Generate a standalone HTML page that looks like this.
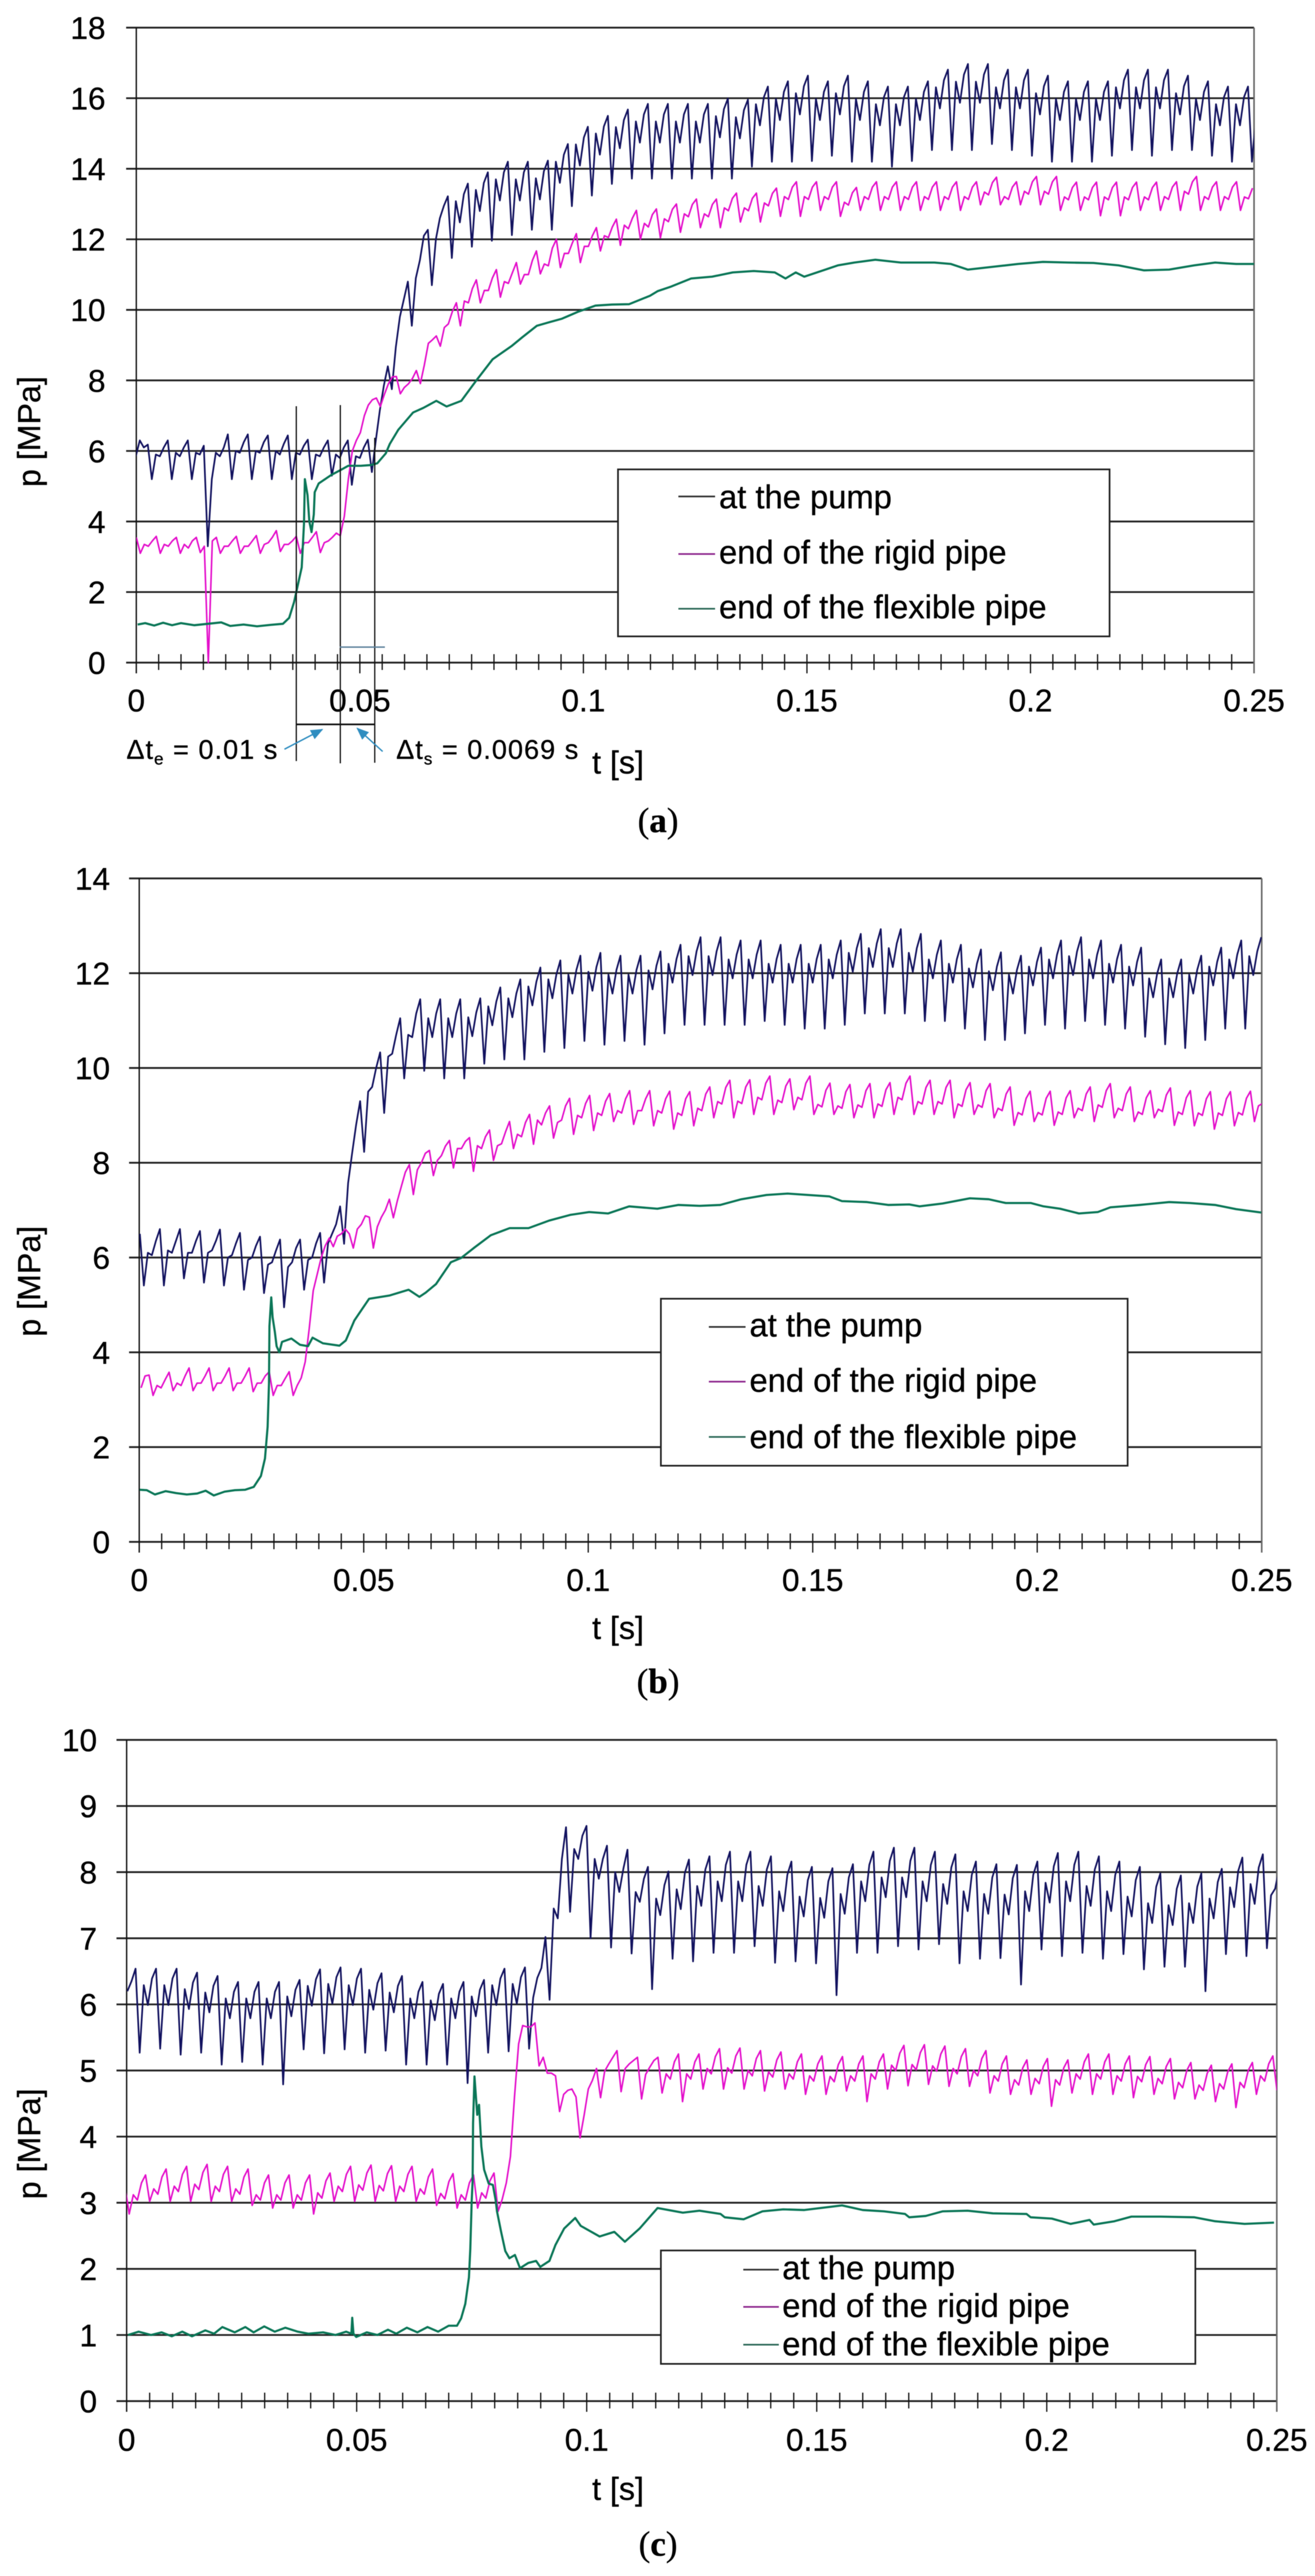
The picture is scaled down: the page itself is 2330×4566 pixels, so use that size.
<!DOCTYPE html>
<html lang="en">
<head>
<meta charset="utf-8">
<title>Pressure at the pump and pipe ends</title>
<style>
html,body{margin:0;padding:0;background:#fff}
svg{display:block;filter:blur(.6px)}
text{font-family:"Liberation Sans",Arial,sans-serif;fill:#000;stroke:#000;stroke-width:.5px}
.lg{font-size:58px}
.ttl{font-size:57px}
.cap{font-family:"Liberation Serif",serif;font-size:62px}
.note{font-size:48px;letter-spacing:1.8px}
</style>
</head>
<body>
<svg id="root" xmlns="http://www.w3.org/2000/svg" width="2330" height="4566" viewBox="0 0 2330 4566">
<rect width="2330" height="4566" fill="#fff"/>
<defs>
<clipPath id="clip-a"><rect x="241.5" y="0" width="1980.5" height="1400"/></clipPath>
<clipPath id="clip-b"><rect x="246.7" y="1500" width="1988.9" height="1400"/></clipPath>
<clipPath id="clip-c"><rect x="224.4" y="3000" width="2037.9" height="1400"/></clipPath>
<marker id="arrow-head" markerWidth="22" markerHeight="18" refX="20" refY="9" orient="auto" markerUnits="userSpaceOnUse"><path d="M0 0L22 9L0 18Z" fill="#2f8dc0"/></marker>
</defs>

<!-- chart a -->
<g id="marks-a"></g>
<g>
<g stroke="#111" stroke-width="2.2" fill="none">
<line x1="525" y1="720" x2="525" y2="1349"/>
<line x1="603" y1="718" x2="603" y2="1353"/>
<line x1="664" y1="776" x2="664" y2="1352"/>
<line x1="524" y1="1284" x2="664" y2="1284" stroke-width="3"/>
</g>
<line x1="602" y1="1147" x2="682" y2="1147" stroke="#5a7f9a" stroke-width="2.5"/>
<line x1="504" y1="1328" x2="571" y2="1293" stroke="#2f8dc0" stroke-width="2.5" marker-end="url(#arrow-head)"/>
<line x1="678" y1="1332" x2="633" y2="1291" stroke="#2f8dc0" stroke-width="2.5" marker-end="url(#arrow-head)"/>
<text class="note" x="224" y="1345">Δt<tspan font-size="30" dy="10">e</tspan><tspan dy="-10"> = 0.01 s</tspan></text>
<text class="note" x="702" y="1345">Δt<tspan font-size="30" dy="10">s</tspan><tspan dy="-10"> = 0.0069 s</tspan></text>
</g>
<g>
<rect x="1095" y="832" width="871" height="296" fill="#fff" stroke="#222" stroke-width="3"/>
<line x1="1202" y1="880" x2="1267" y2="880" stroke="#333" stroke-width="3"/>
<line x1="1202" y1="982" x2="1267" y2="982" stroke="#8f2a8f" stroke-width="3"/>
<line x1="1202" y1="1079" x2="1267" y2="1079" stroke="#2f6b5a" stroke-width="3"/>
<text class="lg" x="1274" y="901">at the pump</text>
<text class="lg" x="1274" y="999">end of the rigid pipe</text>
<text class="lg" x="1274" y="1096">end of the flexible pipe</text>
</g>
<text class="ttl" transform="translate(71 765) rotate(-90)" text-anchor="middle">p [MPa]</text>
<text class="ttl" x="1095" y="1371" text-anchor="middle">t [s]</text>
<text class="cap" x="1166" y="1475" text-anchor="middle">(<tspan font-weight="bold">a</tspan>)</text>

<!-- chart b -->
<g id="marks-b"></g>
<g>
<rect x="1171" y="2302" width="827" height="296" fill="#fff" stroke="#222" stroke-width="3"/>
<line x1="1256" y1="2352" x2="1321" y2="2352" stroke="#333" stroke-width="3"/>
<line x1="1256" y1="2449" x2="1321" y2="2449" stroke="#8f2a8f" stroke-width="3"/>
<line x1="1256" y1="2547" x2="1321" y2="2547" stroke="#2f6b5a" stroke-width="3"/>
<text class="lg" x="1328" y="2369">at the pump</text>
<text class="lg" x="1328" y="2467">end of the rigid pipe</text>
<text class="lg" x="1328" y="2567">end of the flexible pipe</text>
</g>
<text class="ttl" transform="translate(71 2271) rotate(-90)" text-anchor="middle">p [MPa]</text>
<text class="ttl" x="1095" y="2905" text-anchor="middle">t [s]</text>
<text class="cap" x="1166" y="3001" text-anchor="middle">(<tspan font-weight="bold">b</tspan>)</text>

<!-- chart c -->
<g id="marks-c"></g>
<g>
<rect x="1171" y="3989" width="947" height="201" fill="#fff" stroke="#222" stroke-width="3"/>
<line x1="1317" y1="4023" x2="1380" y2="4023" stroke="#333" stroke-width="3"/>
<line x1="1317" y1="4089" x2="1380" y2="4089" stroke="#8f2a8f" stroke-width="3"/>
<line x1="1317" y1="4156" x2="1380" y2="4156" stroke="#2f6b5a" stroke-width="3"/>
<text class="lg" x="1386" y="4040">at the pump</text>
<text class="lg" x="1386" y="4107">end of the rigid pipe</text>
<text class="lg" x="1386" y="4175">end of the flexible pipe</text>
</g>
<text class="ttl" transform="translate(71 3800) rotate(-90)" text-anchor="middle">p [MPa]</text>
<text class="ttl" x="1095" y="4431" text-anchor="middle">t [s]</text>
<text class="cap" x="1166" y="4530" text-anchor="middle">(<tspan font-weight="bold">c</tspan>)</text>
</svg>

<script>
const SVG_NS = 'http://www.w3.org/2000/svg';

/* shared axis data */
const xTickLabels = ['0', '0.05', '0.1', '0.15', '0.2', '0.25'];
const xTickValues = [0, 0.05, 0.1, 0.15, 0.2, 0.25];
const xMinorStep = 0.005;
const tMax = 0.25;

/* chart a: pressure samples [MPa], uniform time step */
const aYTicks = [0, 2, 4, 6, 8, 10, 12, 14, 16, 18];
const aPump = [
5.85,6.3,6.1,6.18,
5.2,5.9,5.85,6.1,6.3,
5.2,5.95,5.85,6.1,6.3,
5.2,5.95,5.9,6.15,3.3,
5.2,5.95,5.85,6.1,6.47,
5.2,6,5.95,6.25,6.47,
5.2,6,5.95,6.25,6.44,
5.2,6,5.9,6.2,6.44,
5.2,5.95,5.9,6.15,6.32,
5.2,5.9,5.85,6.1,6.3,
5.3,5.9,5.8,6.1,6.3,
5.04,5.85,5.8,6.1,6.32,
5.4,6.3,7.15,7.85,8.4,
7.75,8.95,9.8,10.3,10.8,
9.55,10.9,11.4,12.1,12.27,
10.7,12,12.6,12.95,13.22,
11.47,13.08,12.48,13.28,13.58,
11.79,13.4,12.8,13.6,13.9,
11.96,13.7,13.1,13.9,14.2,
12.12,13.7,13.1,13.9,14.2,
12.27,13.73,13.13,13.93,14.23,
12.27,14.2,13.6,14.4,14.7,
12.94,14.69,14.09,14.89,15.19,
13.24,15,14.4,15.2,15.5,
13.57,15.18,14.58,15.38,15.68,
13.72,15.34,14.74,15.54,15.84,
13.72,15.34,14.74,15.54,15.84,
13.72,15.34,14.74,15.54,15.84,
13.72,15.34,14.74,15.54,15.84,
13.72,15.49,14.89,15.69,15.99,
13.72,15.46,14.86,15.66,15.96,
14.06,15.83,15.23,16.03,16.33,
14.2,15.98,15.38,16.18,16.48,
14.2,16.14,15.54,16.34,16.64,
14.22,15.98,15.38,16.18,16.48,
14.37,16.14,15.54,16.34,16.64,
14.2,15.98,15.38,16.18,16.48,
14.2,15.83,15.23,16.03,16.33,
14.06,15.83,15.23,16.03,16.33,
14.22,15.98,15.38,16.18,16.48,
14.53,16.31,15.71,16.51,16.81,
14.53,16.47,15.87,16.67,16.97,
14.53,16.47,15.87,16.67,16.97,
14.7,16.31,15.71,16.51,16.81,
14.53,16.31,15.71,16.51,16.81,
14.37,16.14,15.54,16.34,16.64,
14.2,15.98,15.38,16.18,16.48,
14.2,15.98,15.38,16.18,16.48,
14.2,15.98,15.38,16.18,16.48,
14.37,16.31,15.71,16.51,16.81,
14.53,16.31,15.71,16.51,16.81,
14.37,16.31,15.71,16.51,16.81,
14.53,16.14,15.54,16.34,16.64,
14.53,15.98,15.38,16.18,16.48,
14.37,15.83,15.23,16.03,16.33,
14.2,15.83,15.23,16.03,16.33,
14.2,15.5
];
const aRigid = [
3.55,
3.1,3.35,3.3,3.45,3.58,
3.1,3.35,3.3,3.45,3.55,
3.1,3.35,3.25,3.45,3.55,
3.12,3.3,0,3.45,3.55,
3.1,3.3,3.3,3.45,3.58,
3.1,3.3,3.3,3.45,3.6,
3.1,3.35,3.4,3.55,3.74,
3.15,3.35,3.35,3.45,3.58,
3.1,3.4,3.4,3.55,3.71,
3.12,3.4,3.45,3.55,3.67,
3.6,4.15,5.2,6,6.3,
6.52,7,7.3,7.45,7.5,
7.26,7.6,7.9,8.1,8.11,
7.62,7.8,7.9,8.05,8.28,
7.91,8.44,9.05,9.15,9.26,
8.97,9.5,9.6,9.95,10.2,
9.55,10.25,10.2,10.6,10.85,
10.2,10.55,10.55,10.9,11.14,
10.36,10.8,10.75,11.05,11.34,
10.73,11,11,11.4,11.67,
11.02,11.3,11.25,11.75,12,
11.2,11.6,11.6,11.9,12.16,
11.34,11.8,11.8,12.1,12.33,
11.67,12.1,12.05,12.35,12.57,
11.83,12.4,12.3,12.6,12.82,
12,12.45,12.35,12.7,12.86,
12.04,12.58,12.5,12.85,13,
12.2,12.72,12.64,12.99,13.14,
12.33,12.72,12.64,12.99,13.14,
12.33,12.89,12.81,13.16,13.31,
12.49,12.89,12.81,13.16,13.31,
12.49,13.03,12.95,13.3,13.45,
12.65,13.21,13.13,13.48,13.63,
12.65,13.21,13.13,13.48,13.63,
12.82,13.21,13.13,13.48,13.63,
12.65,13.05,12.97,13.32,13.47,
12.82,13.21,13.13,13.48,13.63,
12.82,13.21,13.13,13.48,13.63,
12.82,13.21,13.13,13.48,13.63,
12.82,13.21,13.13,13.48,13.63,
12.82,13.21,13.13,13.48,13.63,
12.82,13.21,13.13,13.48,13.63,
12.98,13.34,13.26,13.61,13.76,
12.98,13.21,13.13,13.48,13.63,
12.98,13.36,13.28,13.63,13.78,
12.98,13.36,13.28,13.63,13.78,
12.82,13.2,13.12,13.47,13.62,
12.82,13.2,13.12,13.47,13.62,
12.67,13.2,13.12,13.47,13.62,
12.67,13.2,13.12,13.47,13.62,
12.82,13.2,13.12,13.47,13.62,
12.82,13.21,13.13,13.48,13.63,
12.82,13.36,13.28,13.63,13.78,
12.82,13.21,13.13,13.48,13.63,
12.82,13.21,13.13,13.48,13.63,
12.82,13.2,13.15,13.45
];
const aFlexMs = [0.3,2,4,6,8,10,13,16,19,21,24,27,30,32.8,34.2,35.3,37,37.5,37.7,38.3,38.7,39.2,39.7,39.9,40.8,42.2,43.6,46,47.4,50.2,52.5,53.9,55.8,56.7,58.6,61.9,64.2,67.1,69.4,72.7,76,79.7,83.9,86.3,89.6,92.4,95.2,98.9,102.7,106.4,110.2,114.9,116.6,119.4,124.1,128.8,133.4,138.1,142.8,145.2,147.5,149.4,154.1,156.9,160.6,165.3,171,175.2,178.5,182.2,186,191.6,197.2,202.8,208.5,214.1,219.7,225.4,231,236.6,241.3,246,250];
const aFlexMpa = [1.08,1.12,1.05,1.13,1.06,1.12,1.06,1.1,1.14,1.04,1.08,1.03,1.07,1.1,1.27,1.72,2.7,3.93,5.2,4.75,4,3.7,4.2,4.83,5.08,5.2,5.32,5.48,5.58,5.58,5.6,5.65,5.93,6.2,6.6,7.09,7.22,7.42,7.26,7.42,7.99,8.6,8.97,9.22,9.55,9.65,9.75,9.95,10.12,10.15,10.16,10.4,10.53,10.65,10.89,10.94,11.06,11.1,11.06,10.89,11.06,10.94,11.14,11.26,11.34,11.42,11.34,11.34,11.34,11.3,11.14,11.22,11.3,11.36,11.34,11.33,11.26,11.12,11.14,11.26,11.34,11.3,11.3];

/* chart b */
const bYTicks = [0, 2, 4, 6, 8, 10, 12, 14];
const bPump = [
6.5,
5.41,6.1,6.05,6.35,6.6,
5.41,6.15,6.1,6.35,6.6,
5.56,6.1,6.1,6.35,6.56,
5.47,6.1,6.15,6.35,6.59,
5.41,6,6.05,6.3,6.52,
5.32,5.95,6,6.25,6.44,
5.25,5.85,5.9,6.15,6.38,
4.95,5.8,5.9,6.2,6.38,
5.32,5.95,6,6.3,6.52,
5.47,6.3,6.5,6.7,7.08,
6.29,7.57,8.2,8.8,9.3,
8.23,9.5,9.6,10,10.33,
9.05,10.24,10.3,10.7,11.05,
9.78,10.7,10.65,11.15,11.45,
9.94,11.05,10.65,11.15,11.45,
9.78,11.05,10.65,11.15,11.45,
9.78,11.07,10.67,11.17,11.47,
10.09,11.3,10.9,11.4,11.7,
10.18,11.47,11.07,11.57,11.87,
10.18,11.72,11.32,11.82,12.12,
10.34,11.87,11.47,11.97,12.27,
10.42,11.97,11.57,12.07,12.37,
10.57,12.03,11.63,12.13,12.43,
10.49,11.97,11.57,12.07,12.37,
10.57,11.97,11.57,12.07,12.37,
10.49,12.06,11.66,12.16,12.46,
10.73,12.2,11.8,12.3,12.6,
10.91,12.36,11.96,12.46,12.76,
10.91,12.36,11.96,12.46,12.76,
10.91,12.29,11.89,12.39,12.69,
10.91,12.29,11.89,12.39,12.69,
10.99,12.2,11.8,12.3,12.6,
10.91,12.2,11.8,12.3,12.6,
10.83,12.2,11.8,12.3,12.6,
10.83,12.29,11.89,12.39,12.69,
10.91,12.43,12.03,12.53,12.83,
11.15,12.53,12.13,12.63,12.93,
11.15,12.53,12.13,12.63,12.93,
11.15,12.43,12.03,12.53,12.83,
10.99,12.29,11.89,12.39,12.69,
10.99,12.2,11.8,12.3,12.6,
10.83,12.1,11.7,12.2,12.5,
10.59,12.04,11.64,12.14,12.44,
10.59,11.97,11.57,12.07,12.37,
10.73,12.14,11.74,12.24,12.54,
10.91,12.29,11.89,12.39,12.69,
10.83,12.36,11.96,12.46,12.76,
10.99,12.29,11.89,12.39,12.69,
10.91,12.2,11.8,12.3,12.6,
10.83,12.14,11.74,12.24,12.54,
10.66,11.89,11.49,11.99,12.29,
10.5,11.89,11.49,11.99,12.29,
10.42,11.97,11.57,12.07,12.37,
10.59,12.14,11.74,12.24,12.54,
10.83,12.29,11.89,12.39,12.69,
10.83,12.36,11.96,12.46,12.76
];
const bRigid = [
3.25,3.5,3.52,
3.09,3.3,3.25,3.42,3.58,
3.19,3.35,3.3,3.5,3.67,
3.19,3.35,3.35,3.5,3.67,
3.19,3.35,3.35,3.5,3.67,
3.19,3.35,3.35,3.5,3.67,
3.17,3.35,3.35,3.5,3.59,
3.09,3.3,3.3,3.45,3.59,
3.09,3.3,3.46,3.8,4.5,
5.3,5.65,6,6.25,6.41,
6.23,6.45,6.5,6.6,6.5,
6.2,6.6,6.7,6.88,6.85,
6.2,6.65,6.85,7,7.23,
6.84,7.2,7.5,7.8,7.96,
7.33,7.85,8,8.2,8.26,
7.73,8.05,8.15,8.35,8.47,
7.89,8.3,8.3,8.45,8.53,
7.82,8.36,8.3,8.55,8.69,
8.05,8.36,8.4,8.65,8.87,
8.3,8.6,8.55,8.85,9.02,
8.39,8.9,8.8,9.05,9.2,
8.52,8.85,8.9,9.2,9.36,
8.6,9,8.95,9.25,9.42,
8.68,9.05,9,9.3,9.46,
8.87,9.1,9.05,9.35,9.52,
8.81,9.1,9.1,9.35,9.52,
8.78,9.1,9.05,9.35,9.51,
8.71,9.05,9,9.35,9.5,
8.78,9.15,9.1,9.45,9.6,
8.95,9.29,9.24,9.59,9.74,
8.95,9.3,9.25,9.6,9.75,
9.02,9.38,9.33,9.68,9.83,
9.02,9.32,9.27,9.62,9.77,
9.12,9.38,9.33,9.68,9.83,
9.02,9.23,9.18,9.53,9.68,
9.02,9.2,9.15,9.5,9.65,
8.95,9.22,9.17,9.52,9.67,
8.95,9.24,9.19,9.54,9.69,
9.02,9.38,9.33,9.68,9.83,
9.02,9.29,9.24,9.59,9.74,
9.02,9.29,9.24,9.59,9.74,
8.95,9.24,9.19,9.54,9.69,
9.02,9.22,9.17,9.52,9.67,
8.95,9.15,9.1,9.45,9.6,
8.79,9.06,9.01,9.36,9.51,
8.87,9.06,9.01,9.36,9.51,
8.79,9.07,9.02,9.37,9.52,
8.95,9.15,9.1,9.45,9.6,
8.87,9.22,9.17,9.52,9.67,
8.95,9.15,9.1,9.45,9.6,
8.87,9.07,9.02,9.37,9.52,
8.95,9.13,9.08,9.43,9.58,
8.79,9.07,9.02,9.37,9.52,
8.78,9.05,9,9.35,9.5,
8.71,9.05,9,9.35,9.5,
8.78,9.06,9.01,9.36,9.51,
8.87,9.2,9.25,9.4,9.2
];
const bFlexMs = [0.1,1.7,3.5,5.9,8.2,10.6,12.9,14.8,16.6,19,21.3,23.6,25.5,27.1,28,28.6,28.9,29,29.4,29.7,30.2,30.6,31.2,31.8,33.9,35.8,37.6,38.6,40.9,44.6,46,47.9,51.2,55.8,60,62.4,63.8,66.1,69.4,71.7,74.5,78.3,82.5,86.7,91.3,96,100.2,104.4,109.1,115.4,120.1,124.8,129.4,134.1,139.7,144.4,149,153.7,156.5,162.1,166.8,171.5,173.8,178.9,185,189.2,193,198.6,201.4,205.1,209.3,213.5,216.3,222.8,229.4,234,239.6,244.3,249.9];
const bFlexMpa = [1.1,1.09,1,1.07,1.03,1,1.02,1.08,0.98,1.06,1.09,1.1,1.16,1.39,1.76,2.43,3.34,4.55,5.16,4.74,4.43,4.13,4,4.22,4.29,4.16,4.13,4.31,4.19,4.14,4.25,4.67,5.13,5.2,5.32,5.17,5.26,5.44,5.9,5.99,6.2,6.47,6.62,6.62,6.78,6.9,6.96,6.93,7.08,7.03,7.11,7.09,7.11,7.23,7.32,7.35,7.32,7.29,7.19,7.17,7.11,7.12,7.08,7.14,7.25,7.23,7.15,7.15,7.08,7.03,6.93,6.96,7.06,7.11,7.17,7.15,7.11,7.02,6.95];

/* chart c */
const cYTicks = [0, 1, 2, 3, 4, 5, 6, 7, 8, 9, 10];
const cPump = [
6.2,6.35,6.54,
5.27,6.29,5.99,6.39,6.54,
5.33,6.29,5.99,6.39,6.54,
5.24,6.23,5.93,6.33,6.48,
5.27,6.18,5.88,6.28,6.43,
5.09,6.09,5.79,6.19,6.34,
5.13,6.09,5.79,6.19,6.34,
5.09,6.09,5.79,6.19,6.34,
4.79,6.12,5.82,6.22,6.37,
5.32,6.28,5.98,6.38,6.53,
5.26,6.31,6.01,6.41,6.56,
5.32,6.29,5.99,6.39,6.54,
5.27,6.22,5.92,6.32,6.47,
5.3,6.18,5.88,6.28,6.43,
5.09,6.09,5.79,6.19,6.34,
5.09,6.06,5.76,6.16,6.31,
5.09,6.09,5.79,6.19,6.34,
4.81,6.12,5.82,6.22,6.37,
5.27,6.29,5.99,6.39,6.54,
5.29,6.31,6.01,6.41,6.56,
5.33,6.1,6.4,6.55,7.02,
6.07,7.45,7.3,8.2,8.68,
7.4,8.35,8.2,8.55,8.7,
7,8.2,7.9,8.2,8.4,
6.86,8,7.7,8.05,8.34,
6.77,7.7,7.55,7.9,8.08,
6.23,7.6,7.35,7.8,8.01,
6.69,7.74,7.44,7.99,8.19,
6.65,7.79,7.49,8.04,8.24,
6.78,7.86,7.56,8.11,8.31,
6.78,7.86,7.56,8.11,8.31,
6.88,7.79,7.49,8.04,8.24,
6.63,7.71,7.41,7.96,8.16,
6.65,7.63,7.33,7.88,8.08,
6.62,7.61,7.31,7.86,8.06,
6.14,7.67,7.37,7.92,8.12,
6.78,7.86,7.56,8.11,8.31,
6.78,7.92,7.62,8.17,8.37,
6.88,7.92,7.62,8.17,8.37,
6.83,7.86,7.56,8.11,8.31,
6.91,7.82,7.52,8.07,8.27,
6.62,7.71,7.41,7.96,8.16,
6.69,7.67,7.37,7.92,8.12,
6.7,7.66,7.36,7.91,8.11,
6.3,7.71,7.41,7.96,8.16,
6.83,7.84,7.54,8.09,8.29,
6.73,7.86,7.56,8.11,8.31,
6.78,7.79,7.49,8.04,8.24,
6.69,7.71,7.41,7.96,8.16,
6.76,7.63,7.33,7.88,8.08,
6.53,7.53,7.23,7.78,7.98,
6.57,7.5,7.2,7.75,7.95,
6.57,7.53,7.23,7.78,7.98,
6.2,7.6,7.3,7.85,8.05,
6.76,7.77,7.47,8.02,8.22,
6.73,7.82,7.52,8.07,8.27,
6.85,7.65,7.75,8.06
];
const cRigid = [
3.24,
2.83,3.12,3.04,3.3,3.42,
3.02,3.21,3.13,3.39,3.51,
3.02,3.25,3.17,3.43,3.55,
3.02,3.28,3.2,3.46,3.58,
3.02,3.25,3.17,3.43,3.55,
3.02,3.21,3.13,3.39,3.51,
2.96,3.12,3.04,3.3,3.42,
2.92,3.12,3.04,3.3,3.42,
2.92,3.12,3.04,3.3,3.42,
2.83,3.15,3.07,3.33,3.45,
3.02,3.25,3.17,3.43,3.55,
3.02,3.27,3.19,3.45,3.57,
3.02,3.26,3.18,3.44,3.56,
3.02,3.25,3.17,3.43,3.55,
3.02,3.21,3.13,3.39,3.51,
2.96,3.14,3.06,3.32,3.44,
2.92,3.12,3.04,3.3,3.42,
2.92,3.15,3.07,3.33,3.45,
2.87,3.05,3.3,3.7,4.6,
5.4,5.68,5.66,5.66,5.72,
5.07,5.2,4.96,4.96,4.92,
4.38,4.64,4.7,4.72,4.6,
3.98,4.33,4.72,4.85,5.03,
4.59,4.99,5.1,5.2,5.3,
4.68,5.03,5.1,5.15,5.2,
4.57,4.94,5.05,5.15,5.2,
4.66,4.95,4.87,5.13,5.25,
4.53,4.95,4.87,5.13,5.25,
4.72,5.03,4.95,5.21,5.33,
4.72,5.04,4.96,5.22,5.34,
4.72,5,4.92,5.18,5.3,
4.69,4.98,4.9,5.16,5.28,
4.72,4.95,4.87,5.13,5.25,
4.64,4.92,4.84,5.1,5.22,
4.64,4.91,4.83,5.09,5.21,
4.69,4.92,4.84,5.1,5.22,
4.53,4.95,4.87,5.13,5.25,
4.72,5.08,5,5.26,5.38,
4.77,5.09,5.01,5.27,5.39,
4.79,5.07,4.99,5.25,5.37,
4.76,5.03,4.95,5.21,5.33,
4.76,5,4.92,5.18,5.3,
4.66,4.92,4.84,5.1,5.22,
4.64,4.86,4.78,5.04,5.16,
4.64,4.88,4.8,5.06,5.18,
4.46,4.86,4.78,5.04,5.16,
4.66,4.95,4.87,5.13,5.25,
4.64,4.95,4.87,5.13,5.25,
4.64,4.92,4.84,5.1,5.22,
4.59,4.91,4.83,5.09,5.21,
4.64,4.88,4.8,5.06,5.18,
4.57,4.82,4.74,5,5.12,
4.57,4.78,4.7,4.96,5.08,
4.53,4.8,4.72,4.98,5.1,
4.44,4.82,4.74,5,5.12,
4.64,4.92,4.84,5.1,5.22,
4.7
];
const cFlexMs = [0.3,2.6,5.3,7.6,9.8,12.1,14.2,17.1,19,20.8,23.5,25.8,27.6,29.9,32.2,34.5,37.2,39.5,42.7,45.4,47.7,48.85,49.03,49.3,49.9,52.2,54.5,56.8,58.6,60.9,63.2,65.4,67.7,70,71.8,72.7,73.6,74.4,74.7,75,75.2,75.3,75.6,76.2,76.6,77.1,77.7,78.7,79.6,80.2,80.5,81.4,82.3,83.2,84.4,85.5,87.3,89,89.9,91.9,93.2,95.1,97.5,98.7,102.8,106,108.3,111.5,115.4,120.9,124.5,129.1,130,134.1,138.2,142.7,147.3,155.5,160,164.6,169.2,170.1,173.7,177.4,182.8,188.3,195.6,196.5,201.1,205.2,209.3,210.2,214.7,218.4,224.8,232.1,236.6,243,249.4];
const cFlexMpa = [1,1.05,1,1.04,0.98,1.05,0.98,1.07,1.02,1.12,1.04,1.12,1.04,1.13,1.05,1.11,1.05,1.02,1.04,1,1.05,1.02,1.26,1.02,0.97,1.04,1,1.08,1.02,1.11,1.04,1.12,1.05,1.14,1.14,1.25,1.47,1.87,2.3,3.03,3.33,4.2,4.91,4.33,4.48,3.85,3.5,3.29,3.27,3.04,2.87,2.56,2.27,2.16,2.21,2.01,2.09,2.12,2.03,2.12,2.36,2.61,2.77,2.65,2.49,2.56,2.41,2.61,2.92,2.85,2.88,2.83,2.78,2.75,2.87,2.9,2.89,2.96,2.89,2.87,2.83,2.78,2.8,2.87,2.88,2.84,2.83,2.78,2.76,2.68,2.74,2.67,2.72,2.79,2.79,2.78,2.72,2.68,2.7];

/* colours */
const PUMP_COLOR = '#12125f';
const RIGID_COLOR = '#e40fcb';
const FLEX_COLOR = '#0a7657';

function makeScale(box, vMax) {
  return {
    x: function (t) { return box.x0 + (t / tMax) * (box.x1 - box.x0); },
    y: function (v) { return box.y0 - (v / vMax) * (box.y0 - box.yTop); }
  };
}

function drawGrid(group, box, scale, yTicks) {
  yTicks.forEach(function (v) {
    const line = document.createElementNS(SVG_NS, 'line');
    
    
    line.setAttribute('x1', box.x0 - 18);
    line.setAttribute('x2', box.x1);
    line.setAttribute('y1', scale.y(v));
    line.setAttribute('y2', scale.y(v));
    line.setAttribute('stroke', '#222');
    line.setAttribute('stroke-width', 3.2);
    group.appendChild(line);

    const label = document.createElementNS(SVG_NS, 'text');
    
    
    label.setAttribute('x', box.labelRight);
    label.setAttribute('y', scale.y(v) + 20);
    label.setAttribute('text-anchor', 'end');
    label.setAttribute('font-size', 56);
    label.textContent = String(v);
    group.appendChild(label);
  });
}

function drawAxisFrame(group, box) {
  const left = document.createElementNS(SVG_NS, 'line');
  
  
  left.setAttribute('x1', box.x0);
  left.setAttribute('x2', box.x0);
  left.setAttribute('y1', box.yTop);
  left.setAttribute('y2', box.y0 + 19);
  left.setAttribute('stroke', '#111');
  left.setAttribute('stroke-width', 2.4);
  group.appendChild(left);

  const right = document.createElementNS(SVG_NS, 'line');
  
  
  right.setAttribute('x1', box.x1);
  right.setAttribute('x2', box.x1);
  right.setAttribute('y1', box.yTop);
  right.setAttribute('y2', box.y0 + 19);
  right.setAttribute('stroke', '#666');
  right.setAttribute('stroke-width', 2.8);
  group.appendChild(right);
}

function drawXTicks(group, box, scale) {
  const count = Math.round(tMax / xMinorStep);
  for (let n = 1; n < count; n++) {
    const isMajor = n % 10 === 0;
    const tick = document.createElementNS(SVG_NS, 'line');
    
    
    tick.setAttribute('x1', scale.x(n * xMinorStep));
    tick.setAttribute('x2', scale.x(n * xMinorStep));
    tick.setAttribute('y1', box.y0 - 15);
    tick.setAttribute('y2', box.y0 + (isMajor ? 19 : 13));
    tick.setAttribute('stroke', '#111');
    tick.setAttribute('stroke-width', 2.2);
    group.appendChild(tick);
  }
  xTickValues.forEach(function (t, idx) {
    const label = document.createElementNS(SVG_NS, 'text');
    
    
    label.setAttribute('x', scale.x(t));
    label.setAttribute('y', box.xLabelY);
    label.setAttribute('text-anchor', 'middle');
    label.setAttribute('font-size', 56);
    label.textContent = xTickLabels[idx];
    group.appendChild(label);
  });
}

function drawPath(group, name, d, color, width, clipId) {
  const path = document.createElementNS(SVG_NS, 'path');
  
  
  path.setAttribute('d', d);
  path.setAttribute('fill', 'none');
  path.setAttribute('stroke', color);
  path.setAttribute('stroke-width', width);
  path.setAttribute('stroke-linejoin', 'round');
  path.setAttribute('clip-path', 'url(#' + clipId + ')');
  group.appendChild(path);
}

function sampledPathData(scale, values, tStart, tStep) {
  return values.map(function (v, i) {
    return (i ? 'L' : 'M') + scale.x(tStart + i * tStep).toFixed(1) + ' ' + scale.y(v).toFixed(1);
  }).join('');
}

function timedPathData(scale, timesMs, values) {
  return values.map(function (v, i) {
    return (i ? 'L' : 'M') + scale.x(timesMs[i] / 1000).toFixed(1) + ' ' + scale.y(v).toFixed(1);
  }).join('');
}

function drawChart(cfg) {
  const group = document.getElementById(cfg.groupId);
  const scale = makeScale(cfg.box, cfg.yTicks[cfg.yTicks.length - 1]);
  drawGrid(group, cfg.box, scale, cfg.yTicks);
  drawAxisFrame(group, cfg.box);
  drawXTicks(group, cfg.box, scale);
  drawPath(group, 'series-at-the-pump', sampledPathData(scale, cfg.pump, cfg.pumpStart, cfg.step), PUMP_COLOR, 3, cfg.clipId);
  drawPath(group, 'series-end-of-rigid-pipe', sampledPathData(scale, cfg.rigid, cfg.rigidStart, cfg.step), RIGID_COLOR, 2.8, cfg.clipId);
  drawPath(group, 'series-end-of-flexible-pipe', timedPathData(scale, cfg.flexMs, cfg.flexMpa), FLEX_COLOR, 3.8, cfg.clipId);
}

drawChart({
  groupId: 'marks-a', clipId: 'clip-a', yTicks: aYTicks,
  box: { x0: 241.5, x1: 2222, y0: 1174.5, yTop: 49, labelRight: 187, xLabelY: 1261 },
  pump: aPump, rigid: aRigid, flexMs: aFlexMs, flexMpa: aFlexMpa,
  pumpStart: -0.00011, rigidStart: 0, step: 0.0008948
});
drawChart({
  groupId: 'marks-b', clipId: 'clip-b', yTicks: bYTicks,
  box: { x0: 246.7, x1: 2235.6, y0: 2733, yTop: 1557, labelRight: 195, xLabelY: 2820 },
  pump: bPump, rigid: bRigid, flexMs: bFlexMs, flexMpa: bFlexMpa,
  pumpStart: 0.00014, rigidStart: 0.0004, step: 0.000892
});
drawChart({
  groupId: 'marks-c', clipId: 'clip-c', yTicks: cYTicks,
  box: { x0: 224.4, x1: 2262.3, y0: 4256, yTop: 3084, labelRight: 172, xLabelY: 4344 },
  pump: cPump, rigid: cRigid, flexMs: cFlexMs, flexMpa: cFlexMpa,
  pumpStart: 0.00016, rigidStart: -0.00034, step: 0.000891
});
</script>
</body>
</html>
